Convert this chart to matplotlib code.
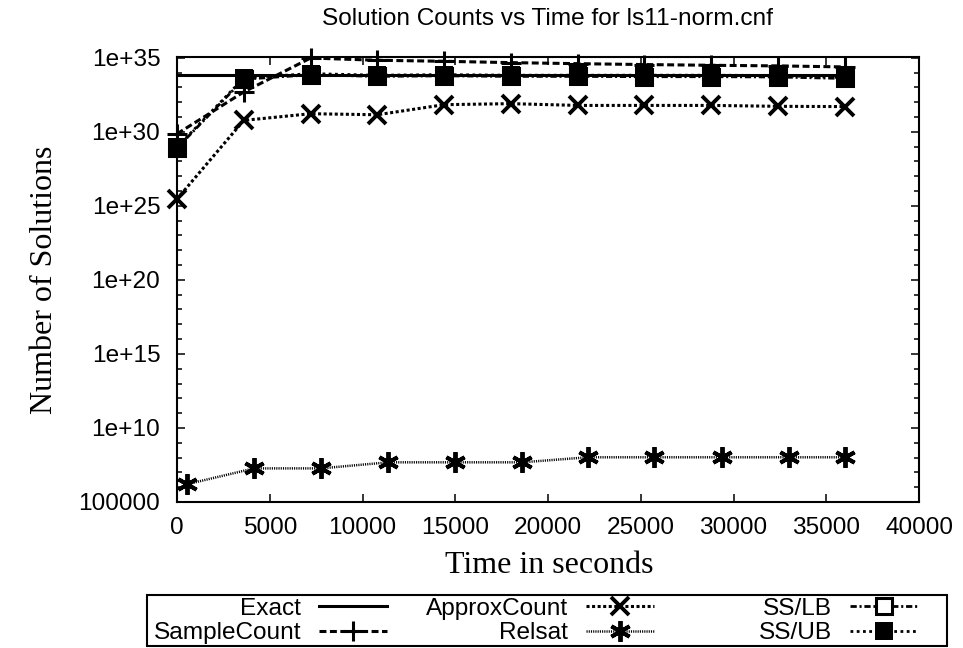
import numpy as np
import matplotlib
matplotlib.use("Agg")
import matplotlib.pyplot as plt
from matplotlib.ticker import FixedLocator, FuncFormatter, NullFormatter
from matplotlib.patches import Rectangle

# =========================
# DATA (log10 of counts)
# =========================

hours = [0, 3600, 7200, 10800, 14400, 18000, 21600, 25200, 28800, 32400, 36000]

exact_t = [0, 36000]
exact_log = [33.86, 33.86]

samplecount_log = [29.86, 32.69, 34.98, 34.83, 34.76, 34.67, 34.60, 34.54, 34.49, 34.45, 34.38]
approxcount_log = [25.46, 30.77, 31.22, 31.15, 31.83, 31.90, 31.78, 31.78, 31.78, 31.72, 31.70]

relsat_t = [540, 4150, 7750, 11400, 15000, 18600, 22150, 25700, 29400, 33000, 36000]
relsat_log = [6.2, 7.27, 7.27, 7.68, 7.68, 7.68, 8.02, 8.02, 8.02, 8.02, 8.02]

sslb_log = [28.90, 33.55, 33.85, 33.74, 33.78, 33.74, 33.74, 33.72, 33.72, 33.70, 33.60]
ssub_log = [28.96, 33.63, 33.93, 33.82, 33.86, 33.82, 33.82, 33.82, 33.82, 33.80, 33.66]

x_ticks = list(range(0, 40001, 5000))
y_major_exp = [5, 10, 15, 20, 25, 30, 35]

# =========================
# Style
# =========================

plt.rcParams["lines.scale_dashes"] = False
sans = "Liberation Sans"
serif = "Liberation Serif"
fs_sans = 17.6
fs_serif = 23

W, H = 963, 648
fig = plt.figure(figsize=(W / 100, H / 100), dpi=100)
ax = fig.add_axes([177 / W, 1 - 502 / H, (919 - 177) / W, (502 - 57) / H])

def ten(v):
    return [10.0 ** e for e in v]

l_exact, = ax.plot(exact_t, ten(exact_log), color="black", lw=2.2, ls="-")
l_sc, = ax.plot(hours, ten(samplecount_log), color="black", lw=2.2,
                marker="+", ms=14, mew=2.2)
l_sc.set_dashes((5, 2.5))
l_ac, = ax.plot(hours, ten(approxcount_log), color="black", lw=2.2,
                marker="x", ms=13, mew=2.8)
l_ac.set_dashes((2.2, 1.8))
l_rs, = ax.plot(relsat_t, ten(relsat_log), color="black", lw=1.8,
                marker=(6, 2, 0), ms=15, mew=2.8)
l_rs.set_dashes((0.8, 0.8))
l_lb, = ax.plot(hours, ten(sslb_log), color="black", lw=2.0,
                marker="s", ms=12, mew=2.2, mfc="white")
l_lb.set_dashes((4.5, 2, 1.5, 2))
l_ub, = ax.plot(hours, ten(ssub_log), color="black", lw=2.0,
                marker="s", ms=13.5, mew=0)
l_ub.set_dashes((2, 2.5))

for ln in [l_exact, l_sc, l_ac, l_rs, l_lb, l_ub]:
    ln.set_clip_on(False)

ax.set_yscale("log")
ax.set_xlim(0, 40000)
ax.set_ylim(1e5, 10 ** 35.05)

ax.set_xticks(x_ticks)
ax.xaxis.set_minor_locator(FixedLocator([]))
ax.yaxis.set_major_locator(FixedLocator([10.0 ** e for e in y_major_exp]))
ax.yaxis.set_minor_locator(FixedLocator([10.0 ** e for e in range(5, 36) if e % 5 != 0]))
ax.yaxis.set_major_formatter(FuncFormatter(lambda v, p: "%g" % v))
ax.yaxis.set_minor_formatter(NullFormatter())
ax.xaxis.set_major_formatter(FuncFormatter(lambda v, p: "%d" % v))

ax.tick_params(which="both", direction="in", top=True, right=True, width=1.1, color="black")
ax.tick_params(which="major", length=5.8)
ax.tick_params(which="minor", length=3.6)
ax.tick_params(axis="x", pad=11)
ax.tick_params(axis="y", pad=12)
for lab in ax.get_xticklabels() + ax.get_yticklabels():
    lab.set_fontfamily(sans)
    lab.set_fontsize(fs_sans)
for sp in ax.spines.values():
    sp.set_linewidth(1.5)

fig.text(548 / W, 1 - 25 / H, "Solution Counts vs Time for ls11-norm.cnf",
         ha="center", va="baseline", family=sans, fontsize=fs_sans)
fig.text(549 / W, 1 - 573 / H, "Time in seconds",
         ha="center", va="baseline", family=serif, fontsize=fs_serif)
fig.text(45 / W, 1 - 280 / H, "Number of Solutions", rotation=90,
         ha="center", va="center", family=serif, fontsize=fs_serif)

# =========================
# Legend (gnuplot-like: label then sample, three columns)
# =========================

cols = [([l_exact, l_sc], ["Exact", "SampleCount"], 399),
        ([l_ac, l_rs], ["ApproxCount", "Relsat"], 666),
        ([l_lb, l_ub], ["SS/LB", "SS/UB"], 930)]
for hs, labs, xr in cols:
    fig.legend(hs, labs, loc="center right", bbox_to_anchor=(xr / W, 1 - 621 / H),
               frameon=False, markerfirst=False, handlelength=2.78,
               handletextpad=0.73, borderpad=0, labelspacing=0.1,
               prop={"family": sans, "size": fs_sans})

fig.patches.append(Rectangle((147 / W, 1 - 646 / H), (947 - 147) / W, (646 - 595) / H,
                             transform=fig.transFigure, fill=False, lw=1.5,
                             edgecolor="black"))

fig.savefig("out.png", dpi=100)
